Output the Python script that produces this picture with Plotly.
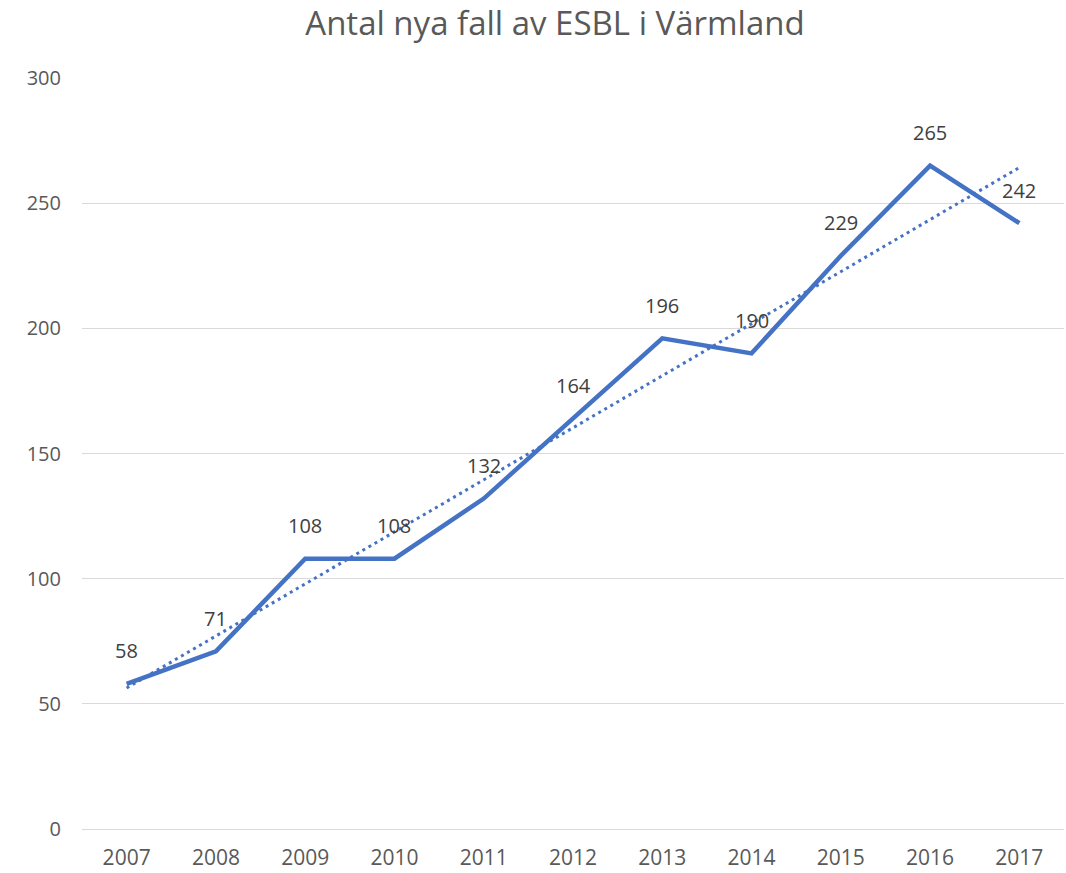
import numpy as np
import plotly.graph_objects as go

years = ["2007", "2008", "2009", "2010", "2011", "2012", "2013", "2014", "2015", "2016", "2017"]
cases = [58, 71, 108, 108, 132, 164, 196, 190, 229, 265, 242]
y_ticks = [0, 50, 100, 150, 200, 250, 300]

title_text = "Antal nya fall av ESBL i Värmland"
blue = "#4472C4"
font_family = "Open Sans, Noto Sans, sans-serif"

# linear trendline (as a spreadsheet trendline would compute it)
idx = np.arange(len(cases))
slope, intercept = np.polyfit(idx, cases, 1)
trend = (slope * idx + intercept).tolist()

W, H = 1066, 873

fig = go.Figure()
fig.add_trace(go.Scatter(
    x=years, y=trend, mode="lines",
    line=dict(color=blue, width=3, dash="3px,4px"),
    hoverinfo="skip", showlegend=False,
))
fig.add_trace(go.Scatter(
    x=years, y=cases, mode="lines",
    line=dict(color=blue, width=4.5),
    showlegend=False,
))

for i, v in enumerate(cases):
    fig.add_annotation(
        x=i, y=v, text=str(v), showarrow=False, yshift=33,
        font=dict(family=font_family, size=20, color="#404040"),
    )

fig.update_layout(
    width=W, height=H,
    margin=dict(l=82, r=2, t=78, b=42),
    paper_bgcolor="white", plot_bgcolor="white",
    title=dict(
        text=title_text, x=555 / W, xanchor="center",
        y=1 - 23 / H, yanchor="middle",
        font=dict(family=font_family, size=33, color="#595959"),
    ),
    xaxis=dict(
        type="category", range=[-0.5, len(years) - 0.5],
        showgrid=False, zeroline=False, showline=False,
        ticks="", ticklabelstandoff=14,
        tickfont=dict(family=font_family, size=21, color="#595959"),
    ),
    yaxis=dict(
        range=[0, 300], tickvals=y_ticks,
        showgrid=True, gridcolor="#D9D9D9", gridwidth=1,
        zeroline=True, zerolinecolor="#D9D9D9", zerolinewidth=1,
        showline=False, ticks="", ticklabelstandoff=20,
        tickfont=dict(family=font_family, size=20, color="#595959"),
    ),
)

fig.write_html(
    "out.html",
    config={"displayModeBar": False},
    post_script="document.body.style.margin='0';document.body.style.overflow='hidden';",
)
